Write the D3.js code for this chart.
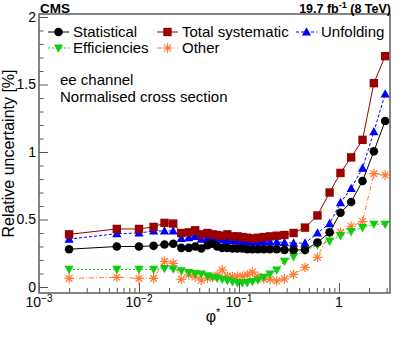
<!DOCTYPE html>
<html>
<head>
<meta charset="utf-8">
<script src="https://cdn.jsdelivr.net/npm/d3@7"></script>
<style>
  body { margin: 0; background: #fff; }
  svg { display: block; font-family: "Liberation Sans", Arial, sans-serif; }
</style>
</head>
<body>
<div class="chart"></div>
<script>
// phi* bin centres and relative uncertainties (%)
const phiStar = [0.002, 0.006, 0.010, 0.014, 0.018, 0.022, 0.0265, 0.0315, 0.0365, 0.042,
  0.0485, 0.0545, 0.0605, 0.068, 0.0765, 0.086, 0.0965, 0.108, 0.121, 0.1365,
  0.155, 0.177, 0.204, 0.2385, 0.285, 0.3515, 0.4575, 0.6095, 0.8065, 1.0355,
  1.3245, 1.7215, 2.2345, 2.8995];

const statistical = [0.28, 0.30, 0.30, 0.305, 0.315, 0.32, 0.29, 0.29, 0.30, 0.285,
  0.31, 0.32, 0.30, 0.29, 0.29, 0.285, 0.285, 0.285, 0.28, 0.28,
  0.28, 0.28, 0.28, 0.28, 0.275, 0.275, 0.275, 0.33, 0.405, 0.55,
  0.63, 0.785, 1.005, 1.23];

const totalSyst = [0.39, 0.43, 0.43, 0.445, 0.475, 0.47, 0.40, 0.405, 0.42, 0.39,
  0.40, 0.39, 0.385, 0.38, 0.39, 0.375, 0.375, 0.37, 0.365, 0.36,
  0.365, 0.37, 0.375, 0.38, 0.385, 0.40, 0.44, 0.53, 0.70, 0.845,
  0.96, 1.09, 1.51, 1.71];

const unfolding = [0.355, 0.395, 0.40, 0.415, 0.415, 0.415, 0.36, 0.365, 0.375, 0.355,
  0.365, 0.37, 0.355, 0.35, 0.345, 0.345, 0.34, 0.34, 0.335, 0.335,
  0.335, 0.335, 0.335, 0.335, 0.33, 0.325, 0.325, 0.40, 0.47, 0.625,
  0.73, 0.88, 1.15, 1.43];

const efficiencies = [0.13, 0.13, 0.13, 0.13, 0.137, 0.133, 0.12, 0.107, 0.10, 0.095,
  0.082, 0.072, 0.065, 0.057, 0.048, 0.04, 0.032, 0.03, 0.032, 0.04,
  0.052, 0.072, 0.096, 0.126, 0.19, 0.225, 0.27, 0.31, 0.34, 0.38,
  0.41, 0.44, 0.465, 0.465];

const other = [0.064, 0.072, 0.064, 0.064, 0.19, 0.175, 0.057, 0.09, 0.075, 0.05,
  0.065, 0.072, 0.09, 0.125, 0.08, 0.075, 0.08, 0.08, 0.09, 0.11,
  0.08, 0.06, 0.057, 0.045, 0.06, 0.093, 0.145, 0.22, 0.40, 0.405,
  0.45, 0.485, 0.84, 0.83];

const yTicks = [0, 0.5, 1, 1.5, 2];
const xDecades = [-3, -2, -1, 0];

let svgWidth = 399;
let svgHeight = 337;

// plot frame in pixels
let frame = { left: 39, right: 390, top: 14, bottom: 293 };

let svg = d3.select(".chart")
  .append("svg")
  .attr("width", svgWidth)
  .attr("height", svgHeight);

let xScale = d3.scaleLog()
  .domain([0.001, 3.24])
  .range([frame.left, frame.right]);

// 0 -> 287px, 2 -> 17px
let yScale = d3.scaleLinear()
  .domain([-0.0444, 2.0222])
  .range([frame.bottom, frame.top]);

// series styles
let series = [
  { name: "Other", values: other, color: "#ff7b33", dash: "5,2,1,2", shape: "star" },
  { name: "Efficiencies", values: efficiencies, color: "#11cc11", dash: "2,2", shape: "down" },
  { name: "Unfolding", values: unfolding, color: "#0000ff", dash: "3,2", shape: "up" },
  { name: "Statistical", values: statistical, color: "#000000", dash: null, shape: "circle" },
  { name: "Total systematic", values: totalSyst, color: "#990000", dash: null, shape: "square" }
];

function drawMarker(g, shape, color, x, y) {
  if (shape === "circle") {
    g.append("circle").attr("cx", x).attr("cy", y).attr("r", 4.3).attr("fill", color);
  } else if (shape === "square") {
    g.append("rect").attr("x", x - 4.2).attr("y", y - 4.2).attr("width", 8.4).attr("height", 8.4).attr("fill", color);
  } else if (shape === "up") {
    g.append("path").attr("d", `M${x},${y - 4.8}L${x + 4.6},${y + 3.6}L${x - 4.6},${y + 3.6}Z`).attr("fill", color);
  } else if (shape === "down") {
    g.append("path").attr("d", `M${x},${y + 4.8}L${x + 4.6},${y - 3.6}L${x - 4.6},${y - 3.6}Z`).attr("fill", color);
  } else if (shape === "star") {
    let r = 4.8, d = 3.4;
    g.append("path")
      .attr("d", `M${x - r},${y}L${x + r},${y}M${x},${y - r}L${x},${y + r}` +
        `M${x - d},${y - d}L${x + d},${y + d}M${x - d},${y + d}L${x + d},${y - d}`)
      .attr("stroke", color).attr("stroke-width", 1.2).attr("fill", "none");
  }
}

svg.append("clipPath").attr("id", "clip")
  .append("rect")
  .attr("x", frame.left).attr("y", frame.top)
  .attr("width", frame.right - frame.left).attr("height", frame.bottom - frame.top);

let plot = svg.append("g")
  .attr("clip-path", "url(#clip)");

let line = d3.line()
  .x(d => xScale(d[0]))
  .y(d => yScale(d[1]));

series.forEach(function (s) {
  let pts = phiStar.map((x, i) => [x, s.values[i]]);
  plot.append("path")
    .datum(pts)
    .attr("d", line)
    .attr("fill", "none")
    .attr("stroke", s.color)
    .attr("stroke-width", 1)
    .attr("stroke-dasharray", s.dash);
  let mg = plot.append("g");
  pts.forEach(p => drawMarker(mg, s.shape, s.color, xScale(p[0]), yScale(p[1])));
});

// axes
let axisColor = "#555";

let yMinor = d3.range(0, 2.01, 0.1).filter(v => Math.abs(v * 2 - Math.round(v * 2)) > 0.01);
svg.append("g")
  .attr("transform", `translate(${frame.left},0)`)
  .call(d3.axisLeft(yScale).tickValues(yMinor).tickSize(-4.5).tickFormat(""))
  .call(g => g.select(".domain").remove());
let yAxisG = svg.append("g")
  .attr("transform", `translate(${frame.left},0)`)
  .call(d3.axisLeft(yScale).tickValues(yTicks).tickSize(-9).tickPadding(12).tickFormat(d3.format("")));
yAxisG.select(".domain").remove();
yAxisG.selectAll("text")
  .attr("x", -3)
  .attr("font-size", 14)
  .attr("font-family", "Liberation Sans, Arial, sans-serif")
  .attr("fill", "#000");

let xMinor = [];
xDecades.forEach(function (e) {
  for (let k = 2; k <= 9; k++) {
    let v = k * Math.pow(10, e);
    if (v <= 3.24) xMinor.push(v);
  }
});
svg.append("g")
  .attr("transform", `translate(0,${frame.bottom})`)
  .call(d3.axisBottom(xScale).tickValues(xMinor).tickSize(-5).tickFormat(""))
  .call(g => g.select(".domain").remove());
let xAxisG = svg.append("g")
  .attr("transform", `translate(0,${frame.bottom})`)
  .call(d3.axisBottom(xScale).tickValues(xDecades.map(e => Math.pow(10, e))).tickSize(-10).tickFormat(""));
xAxisG.select(".domain").remove();

svg.selectAll(".tick line").attr("stroke", axisColor).attr("stroke-width", 1);

// x tick labels with exponents
xDecades.forEach(function (e) {
  let t = svg.append("text")
    .attr("x", xScale(Math.pow(10, e)))
    .attr("y", 307)
    .attr("text-anchor", "middle")
    .attr("font-size", 14);
  if (e === 0) {
    t.text("1");
  } else {
    t.append("tspan").text("10");
    t.append("tspan").attr("font-size", 10).attr("dy", -5).text(String(e).replace("-", "\u2212"));
  }
});

// frame
svg.append("rect")
  .attr("x", frame.left).attr("y", frame.top)
  .attr("width", frame.right - frame.left).attr("height", frame.bottom - frame.top)
  .attr("fill", "none")
  .attr("stroke", "#666")
  .attr("stroke-width", 1.6);

// axis titles
let xTitle = svg.append("text")
  .attr("x", 213)
  .attr("y", 322)
  .attr("text-anchor", "middle")
  .attr("font-size", 16);
xTitle.append("tspan").text("\u03c6");
xTitle.append("tspan").attr("font-size", 11).attr("dy", -6).text("*");

svg.append("text")
  .attr("transform", `translate(14,${(frame.top + frame.bottom) / 2})rotate(-90)`)
  .attr("text-anchor", "middle")
  .attr("font-size", 16)
  .text("Relative uncertainty [%]");

// header labels
svg.append("text")
  .attr("x", 40).attr("y", 13)
  .attr("font-size", 13.5)
  .attr("font-weight", "bold")
  .text("CMS");

let lumi = svg.append("text")
  .attr("x", 391).attr("y", 13)
  .attr("text-anchor", "end")
  .attr("font-size", 12.5)
  .attr("font-weight", "bold");
lumi.append("tspan").text("19.7 fb");
lumi.append("tspan").attr("font-size", 9).attr("dy", -5).text("-1");
lumi.append("tspan").attr("dy", 5).text(" (8 TeV)");

// legend
let legendEntries = [
  { s: series[3], x: 48, y: 32 },
  { s: series[4], x: 157, y: 32 },
  { s: series[2], x: 296, y: 32 },
  { s: series[1], x: 48, y: 48 },
  { s: series[0], x: 157, y: 48 }
];
legendEntries.forEach(function (e) {
  let g = svg.append("g");
  g.append("line")
    .attr("x1", e.x).attr("x2", e.x + 21)
    .attr("y1", e.y).attr("y2", e.y)
    .attr("stroke", e.s.color)
    .attr("stroke-width", 1)
    .attr("stroke-dasharray", e.s.dash);
  drawMarker(g, e.s.shape, e.s.color, e.x + 10.5, e.y);
  g.append("text")
    .attr("x", e.x + 25).attr("y", e.y + 5)
    .attr("font-size", 15)
    .text(e.s.name);
});

svg.append("text")
  .attr("x", 60).attr("y", 85)
  .attr("font-size", 15)
  .text("ee channel");
svg.append("text")
  .attr("x", 60).attr("y", 102)
  .attr("font-size", 15)
  .text("Normalised cross section");
</script>
</body>
</html>
